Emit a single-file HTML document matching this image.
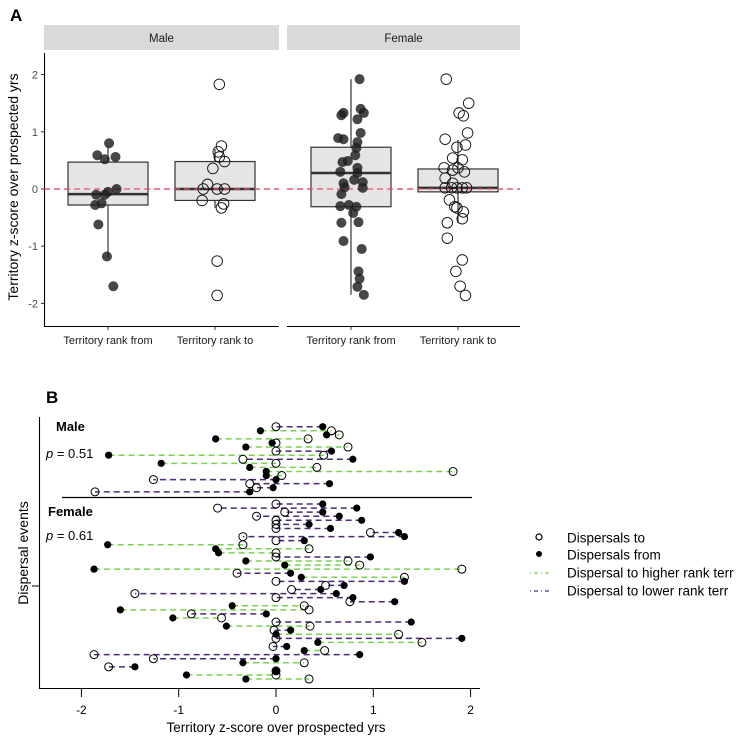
<!DOCTYPE html>
<html><head><meta charset="utf-8">
<style>
html,body{margin:0;padding:0;background:#fff;}
svg{display:block;font-family:"Liberation Sans",Arial,sans-serif;}
</style></head>
<body>
<svg id="chart" width="746" height="738" viewBox="0 0 746 738" xmlns="http://www.w3.org/2000/svg">
<g id="pa"></g>
<g id="pb"></g>
</svg>
<script>
// ---------- Panel A data ----------
const aYTicks = [-2, -1, 0, 1, 2];
const aCategories = ["Territory rank from", "Territory rank to"];
const aFacets = ["Male", "Female"];
// box stats: [lowWhisker, q1, median, q3, highWhisker]
const maleFromBox = [-1.2, -0.28, -0.09, 0.47, 0.75];
const maleToBox = [-0.33, -0.2, 0.0, 0.48, 0.7];
const femaleFromBox = [-1.85, -0.31, 0.28, 0.73, 1.92];
const femaleToBox = [-0.6, -0.05, 0.02, 0.35, 0.86];
// points: values and horizontal jitter (category units)
const maleFromVals = [0.80,0.59,0.52,0.56,0.0,-0.05,-0.1,-0.1,-0.28,-0.25,-0.62,-1.18,-1.7];
const maleFromJit = [0.01,-0.10,-0.03,0.07,0.08,0.0,-0.11,-0.03,-0.12,-0.06,-0.09,-0.01,0.05];
const maleToVals = [1.83,0.75,0.65,0.56,0.48,0.36,0.08,0.0,0.0,0.0,-0.2,-0.26,-0.33,-1.26,-1.86];
const maleToJit = [0.04,0.06,0.03,0.04,0.09,-0.02,-0.07,-0.11,0.02,0.09,-0.12,0.08,0.06,0.02,0.02];
const femaleFromVals = [1.92,1.29,1.33,1.40,1.33,1.22,0.98,0.89,0.87,0.82,0.72,0.59,0.47,0.49,0.37,0.30,0.28,0.10,0.16,0.12,0.02,0.03,-0.09,-0.30,-0.28,-0.31,-0.42,-0.58,-0.59,-0.91,-1.05,-1.44,-1.57,-1.71,-1.85];
const femaleFromJit = [0.08,-0.09,-0.07,0.09,0.12,0.06,0.09,-0.12,-0.07,0.06,0.05,0.04,-0.08,-0.03,0.06,-0.10,0.06,-0.07,0.03,0.11,0.11,-0.06,-0.09,-0.10,-0.02,0.05,0.02,0.07,-0.09,-0.07,0.10,0.07,0.08,0.06,0.12];
const femaleToVals = [1.92,1.50,1.33,1.28,0.98,0.87,0.73,0.77,0.54,0.51,0.37,0.33,0.37,0.30,0.19,0.10,0.02,0.02,0.02,0.02,0.02,-0.19,-0.31,-0.33,-0.40,-0.52,-0.59,-0.86,-1.24,-1.44,-1.70,-1.86];
const femaleToJit = [-0.11,0.10,0.01,0.05,0.09,-0.12,-0.01,0.07,-0.05,0.04,-0.13,-0.05,0.0,0.06,-0.12,-0.05,-0.12,-0.06,-0.01,0.04,0.08,-0.08,-0.03,-0.01,0.05,0.04,-0.10,-0.10,0.04,-0.02,0.02,0.07];

// ---------- Panel B data ----------
const bXTicks = [-2, -1, 0, 1, 2];
const maleFrom = [0.48,-0.16,0.52,-0.62,-0.04,-0.31,0.57,-1.72,0.79,-1.18,-0.27,-0.10,-0.10,0.0,0.55,-0.03,-0.27];
const maleTo   = [0.0,0.57,0.65,0.33,0.0,0.74,0.0,0.49,-0.34,0.0,0.42,1.82,0.06,-1.26,-0.27,-0.20,-1.86];
const femaleFrom = [0.48,0.83,0.48,0.65,0.88,0.34,0.56,1.26,1.32,0.29,-1.73,-0.62,-0.59,0.97,-0.31,0.09,-1.87,0.15,0.26,1.32,0.70,0.46,0.62,0.79,1.22,-0.45,-1.60,-0.10,-1.06,1.39,-0.51,0.15,0.0,1.91,0.43,0.11,0.29,0.86,0.0,-0.34,-1.45,0.0,-0.92,-0.31];
const femaleTo   = [0.0,-0.60,0.09,-0.20,0.0,0.0,0.0,0.97,-0.34,0.0,-0.34,0.34,0.0,0.0,0.74,0.86,1.91,-0.40,1.32,0.0,0.51,0.16,-1.45,0.0,0.76,0.29,0.34,-0.87,-0.56,0.0,0.35,-0.02,1.26,0.0,1.50,-0.03,0.50,-1.87,-1.26,0.29,-1.72,0.0,0.0,0.34];
const legendLabels = ["Dispersals to","Dispersals from","Dispersal to higher rank terr","Dispersal to lower rank terr"];

const NS = "http://www.w3.org/2000/svg";
function mk(parent, tag, attrs, text){
  const e = document.createElementNS(NS, tag);
  for (const k in attrs) e.setAttribute(k, attrs[k]);
  if (text !== undefined) e.textContent = text;
  parent.appendChild(e);
  return e;
}
const GREEN = "#7ad151", PURPLE = "#4b2a7a";

// ---------- Panel A ----------
const pa = document.getElementById('pa');
const ayScale = v => 189 - v * 57.2;
const facetX = [[44,279],[287,520]];
const catCenters = [[108,215],[351,458]];
const catUnit = 107;
const boxW = 80;

let t = mk(pa,'text',{x:10,y:21,'font-size':17,'font-weight':'bold'},'A');
 

aFacets.forEach((f,fi)=>{
  const [x0,x1] = facetX[fi];
  const s = mk(pa,'rect',{x:x0,y:25,width:x1-x0,height:25,fill:'#d9d9d9'});
   
  const st = mk(pa,'text',{x:(x0+x1)/2,y:42,'font-size':11.5,fill:'#1a1a1a','text-anchor':'middle'},f);
   
  const ax = mk(pa,'line',{x1:x0,x2:x1,y1:326.5,y2:326.5,stroke:'#000','stroke-width':1.1});
   
  const ref = mk(pa,'line',{x1:x0,x2:x1,y1:ayScale(0),y2:ayScale(0),stroke:'#e8506a','stroke-width':1.2,'stroke-dasharray':'6,4'});
   
  aCategories.forEach((c,ci)=>{
    const cx = catCenters[fi][ci];
    const tk = mk(pa,'line',{x1:cx,x2:cx,y1:326.5,y2:330,stroke:'#333'});
     
    const tl = mk(pa,'text',{x:cx,y:344,'font-size':11,fill:'#1a1a1a','text-anchor':'middle'},c);
     
  });
});
// y axis
let yax = mk(pa,'line',{x1:44.5,x2:44.5,y1:53,y2:327,stroke:'#000','stroke-width':1.1});
 
aYTicks.forEach(v=>{
  const y = ayScale(v);
  const tk = mk(pa,'line',{x1:41,x2:44,y1:y,y2:y,stroke:'#333'});
   
  const tl = mk(pa,'text',{x:38,y:y+4,'font-size':11,fill:'#4d4d4d','text-anchor':'end'},String(v));
   
});
let yt = mk(pa,'text',{x:0,y:0,'font-size':14,fill:'#000','text-anchor':'middle',transform:'translate(18,187) rotate(-90)'},'Territory z-score over prospected yrs');
 

function drawBox(stats, cx, name){
  const g = mk(pa,'g',{});
   
  const [lo,q1,md,q3,hi] = stats;
  const w1 = mk(g,'line',{x1:cx,x2:cx,y1:ayScale(q3),y2:ayScale(hi),stroke:'#333','stroke-width':1.2});
   
  const w2 = mk(g,'line',{x1:cx,x2:cx,y1:ayScale(q1),y2:ayScale(lo),stroke:'#333','stroke-width':1.2});
   
  const r = mk(g,'rect',{x:cx-boxW/2,y:ayScale(q3),width:boxW,height:ayScale(q1)-ayScale(q3),fill:'#e5e5e5',stroke:'#333','stroke-width':1.2});
   
  const m = mk(g,'line',{x1:cx-boxW/2,x2:cx+boxW/2,y1:ayScale(md),y2:ayScale(md),stroke:'#333','stroke-width':2.5});
   
}
function drawPts(vals, jit, cx, filled, name){
  const g = mk(pa,'g',{});
   
  vals.forEach((v,i)=>{
    const c = mk(g,'circle',{cx:cx+jit[i]*catUnit,cy:ayScale(v),r:filled?5:5.3,
      fill:filled?'rgba(30,30,30,0.82)':'none',stroke:filled?'none':'#111','stroke-width':0.9});
     
  });
}
drawBox(maleFromBox, catCenters[0][0], 'box-male-from');
drawBox(maleToBox, catCenters[0][1], 'box-male-to');
drawBox(femaleFromBox, catCenters[1][0], 'box-female-from');
drawBox(femaleToBox, catCenters[1][1], 'box-female-to');
// re-draw dashed zero line over boxes like ggplot order
aFacets.forEach((f,fi)=>{
  const [x0,x1]=facetX[fi];
  const ref = mk(pa,'line',{x1:x0,x2:x1,y1:ayScale(0),y2:ayScale(0),stroke:'#e8506a','stroke-width':1.2,'stroke-dasharray':'6,4'});
   
});
drawPts(maleFromVals, maleFromJit, catCenters[0][0], true, 'points-male-from');
drawPts(maleToVals, maleToJit, catCenters[0][1], false, 'points-male-to');
drawPts(femaleFromVals, femaleFromJit, catCenters[1][0], true, 'points-female-from');
drawPts(femaleToVals, femaleToJit, catCenters[1][1], false, 'points-female-to');

// ---------- Panel B ----------
const pb = document.getElementById('pb');
const bx = v => 276 + v * 97.3;
const byRow = i => 426.7 + i * 4.07;

t = mk(pb,'text',{x:46,y:403,'font-size':17,'font-weight':'bold'},'B');
 

let lax = mk(pb,'line',{x1:39.5,x2:39.5,y1:417,y2:688.5,stroke:'#000','stroke-width':1.1});
 
let ltk = mk(pb,'line',{x1:32,x2:39,y1:586,y2:586,stroke:'#000'});
 
let bax = mk(pb,'line',{x1:39,x2:480,y1:688.5,y2:688.5,stroke:'#000','stroke-width':1.1});
 
bXTicks.forEach(v=>{
  const x = bx(v);
  const tk = mk(pb,'line',{x1:x,x2:x,y1:688.5,y2:697,stroke:'#000'});
   
  const tl = mk(pb,'text',{x:x,y:714,'font-size':12,fill:'#000','text-anchor':'middle'},String(v));
   
});
let bxt = mk(pb,'text',{x:276,y:732,'font-size':13.5,fill:'#000','text-anchor':'middle'},'Territory z-score over prospected yrs');
 
let byt = mk(pb,'text',{x:0,y:0,'font-size':14,fill:'#000','text-anchor':'middle',transform:'translate(28,553) rotate(-90)'},'Dispersal events');
 
let sep = mk(pb,'line',{x1:62,x2:472,y1:497.5,y2:497.5,stroke:'#000','stroke-width':1.3});
 

let lm = mk(pb,'text',{x:56,y:431,'font-size':13,'font-weight':'bold'},'Male');
 
let pm = mk(pb,'text',{x:46,y:458,'font-size':13},'');
 
mk(pm,'tspan',{'font-style':'italic'},'p');
mk(pm,'tspan',{},' = 0.51');
let lf = mk(pb,'text',{x:48,y:516,'font-size':13,'font-weight':'bold'},'Female');
 
let pf = mk(pb,'text',{x:46,y:540,'font-size':13},'');
 
mk(pf,'tspan',{'font-style':'italic'},'p');
mk(pf,'tspan',{},' = 0.61');

function drawEvents(from, to, startRow, name){
  const g = mk(pb,'g',{});
   
  from.forEach((f,i)=>{
    const y = byRow(startRow+i);
    const ln = mk(g,'line',{x1:bx(f),x2:bx(to[i]),y1:y,y2:y,stroke:to[i]>f?GREEN:PURPLE,'stroke-width':1.5,'stroke-dasharray':'6,4'});
     
  });
  from.forEach((f,i)=>{
    const y = byRow(startRow+i);
    const oc = mk(g,'circle',{cx:bx(to[i]),cy:y,r:4,fill:'none',stroke:'#000','stroke-width':1});
     
    const fc = mk(g,'circle',{cx:bx(f),cy:y,r:3.6,fill:'#000'});
     
  });
}
drawEvents(maleFrom, maleTo, 0, 'male-dispersal-events');
drawEvents(femaleFrom, femaleTo, 19, 'female-dispersal-events');

// legend
const lg = mk(pb,'g',{});
 
const lgY = [538,555,573,591];
legendLabels.forEach((lab,i)=>{
  const y = lgY[i];
  const e = mk(lg,'g',{});
   
  if (i===0) mk(e,'circle',{cx:539,cy:y-1,r:3,fill:'none',stroke:'#000','stroke-width':1.2});
  else if (i===1) mk(e,'circle',{cx:539,cy:y-1,r:3,fill:'#000'});
  else mk(e,'line',{x1:530,x2:550,y1:y,y2:y,stroke:i===2?GREEN:PURPLE,'stroke-width':1.2,'stroke-dasharray':'1,3,4,3'});
  mk(e,'text',{x:567,y:y+4.5,'font-size':13.5,fill:'#000'},lab);
});
</script>
</body></html>
